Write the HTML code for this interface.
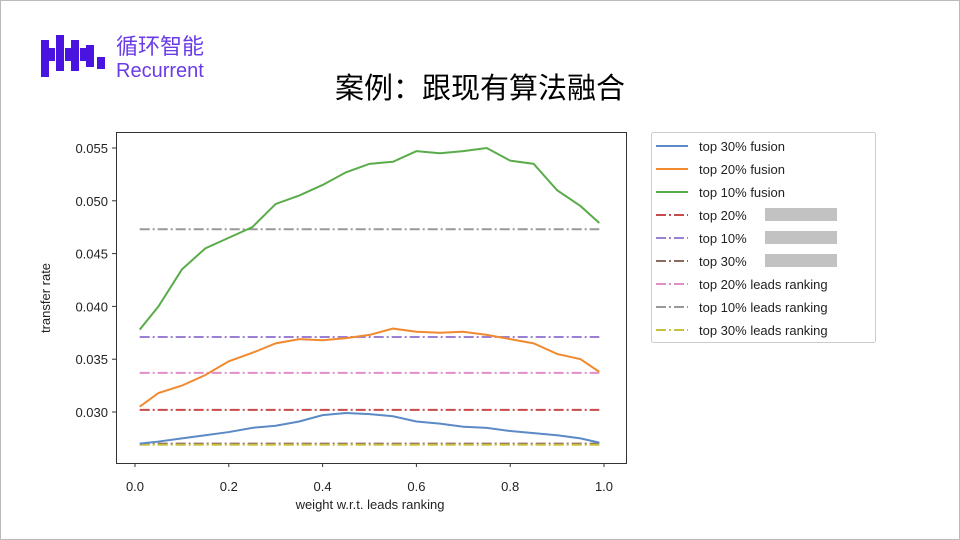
<!DOCTYPE html>
<html><head><meta charset="utf-8"><style>
body{margin:0;width:960px;height:540px;background:#fff;overflow:hidden;font-family:"Liberation Sans","DejaVu Sans",sans-serif}
.frame{position:absolute;left:0;top:0;width:958px;height:538px;border:1px solid #bbb}
</style></head><body>
<div class="frame"></div>
<svg width="960" height="540" style="position:absolute;left:0;top:0" id="s">
<g fill="#4a14e0">
<rect x="41" y="40" width="8" height="37"/><rect x="49" y="48" width="6" height="13"/>
<rect x="56" y="35" width="8" height="36"/><rect x="65" y="48" width="6" height="13"/>
<rect x="71" y="40" width="8" height="31"/><rect x="80" y="48" width="6" height="13"/>
<rect x="86" y="45" width="8" height="22"/><rect x="97" y="57" width="8" height="12"/>
</g>
<text x="116" y="54" font-size="22" fill="#6a3ce8" font-family="Noto Sans CJK SC,sans-serif">循环智能</text>
<text x="116" y="77" font-size="20" fill="#6a3ce8" font-family="Liberation Sans,sans-serif">Recurrent</text>
<text x="480" y="98" font-size="29" text-anchor="middle" fill="#000" font-family="Noto Sans CJK SC,sans-serif">案例：跟现有算法融合</text>
<rect x="116.5" y="132.5" width="510" height="331" fill="none" stroke="#333" stroke-width="1"/>
<g id="plot"></g>
<text transform="translate(50,298) rotate(-90)" font-size="13" text-anchor="middle" fill="#222">transfer rate</text>
<text x="370" y="509" font-size="13" text-anchor="middle" fill="#222">weight w.r.t. leads ranking</text>
<rect x="651.5" y="132.5" width="224" height="210" rx="2" fill="#fff" stroke="#ccc"/>
<g id="leg"></g>
</svg>
<script>
var P=document.getElementById('plot'),L=document.getElementById('leg'),h='';
function X(x){return 135+x*469}function Y(v){return 412-(v-0.030)*10560}
var xs=[.01,.05,.1,.15,.2,.25,.3,.35,.4,.45,.5,.55,.6,.65,.7,.75,.8,.85,.9,.95,.99];
var G=[.0378,.040,.0435,.0455,.0465,.0475,.0497,.0505,.0515,.0527,.0535,.0537,.0547,.0545,.0547,.055,.0538,.0535,.051,.0495,.0479];
var O=[.0305,.0318,.0325,.0335,.0348,.0356,.0365,.0369,.0368,.037,.0373,.0379,.0376,.0375,.0376,.0373,.0369,.0365,.0355,.035,.0338];
var B=[.027,.0272,.0275,.0278,.0281,.0285,.0287,.0291,.0297,.0299,.0298,.0296,.0291,.0289,.0286,.0285,.0282,.028,.0278,.0275,.0271];
[0,.2,.4,.6,.8,1].forEach(function(t){var x=X(t);h+='<line x1="'+x+'" x2="'+x+'" y1="463" y2="467" stroke="#333"/><text x="'+x+'" y="491" font-size="13" text-anchor="middle" fill="#222">'+t.toFixed(1)+'</text>'});
[.03,.035,.04,.045,.05,.055].forEach(function(t){var y=Y(t);h+='<line x1="112" x2="116" y1="'+y+'" y2="'+y+'" stroke="#333"/><text x="108" y="'+(y+5)+'" font-size="13" text-anchor="end" fill="#222">'+t.toFixed(3)+'</text>'});
var hz=[[.0473,'#999'],[.0371,'#9b7fd4'],[.0337,'#e08fc8'],[.0302,'#c94a4a'],[.0270,'#8c6a60'],[.0269,'#c8c040']];
hz.forEach(function(a){h+='<line x1="'+X(.01)+'" x2="'+X(.99)+'" y1="'+Y(a[0])+'" y2="'+Y(a[0])+'" stroke="'+a[1]+'" stroke-width="2" stroke-dasharray="10,3,2,3"/>'});
function pl(d,c){var p=xs.map(function(x,i){return X(x)+','+Y(d[i])}).join(' ');h+='<polyline points="'+p+'" fill="none" stroke="'+c+'" stroke-width="2"/>'}
pl(B,'#5b8ac6');pl(O,'#f08a30');pl(G,'#5aac4a');
P.innerHTML=h;
var it=[['#5b8ac6','top 30% fusion',0],['#f08a30','top 20% fusion',0],['#5aac4a','top 10% fusion',0],['#c94a4a','top 20% ',1],['#9b7fd4','top 10% ',1],['#8c6a60','top 30% ',1],['#e08fc8','top 20% leads ranking',1],['#999','top 10% leads ranking',1],['#c8c040','top 30% leads ranking',1]];
var g='';it.forEach(function(a,i){var y=146+i*23;g+='<line x1="656" x2="688" y1="'+y+'" y2="'+y+'" stroke="'+a[0]+'" stroke-width="2"'+(a[2]?' stroke-dasharray="10,3,2,3"':'')+'/><text x="699" y="'+(y+5)+'" font-size="13" fill="#222">'+a[1]+'</text>';
if(i>=3&&i<=5)g+='<rect x="765" y="'+(y-7)+'" width="72" height="13" fill="#999" opacity="0.6"/>';});
L.innerHTML=g;
</script>
</body></html>
